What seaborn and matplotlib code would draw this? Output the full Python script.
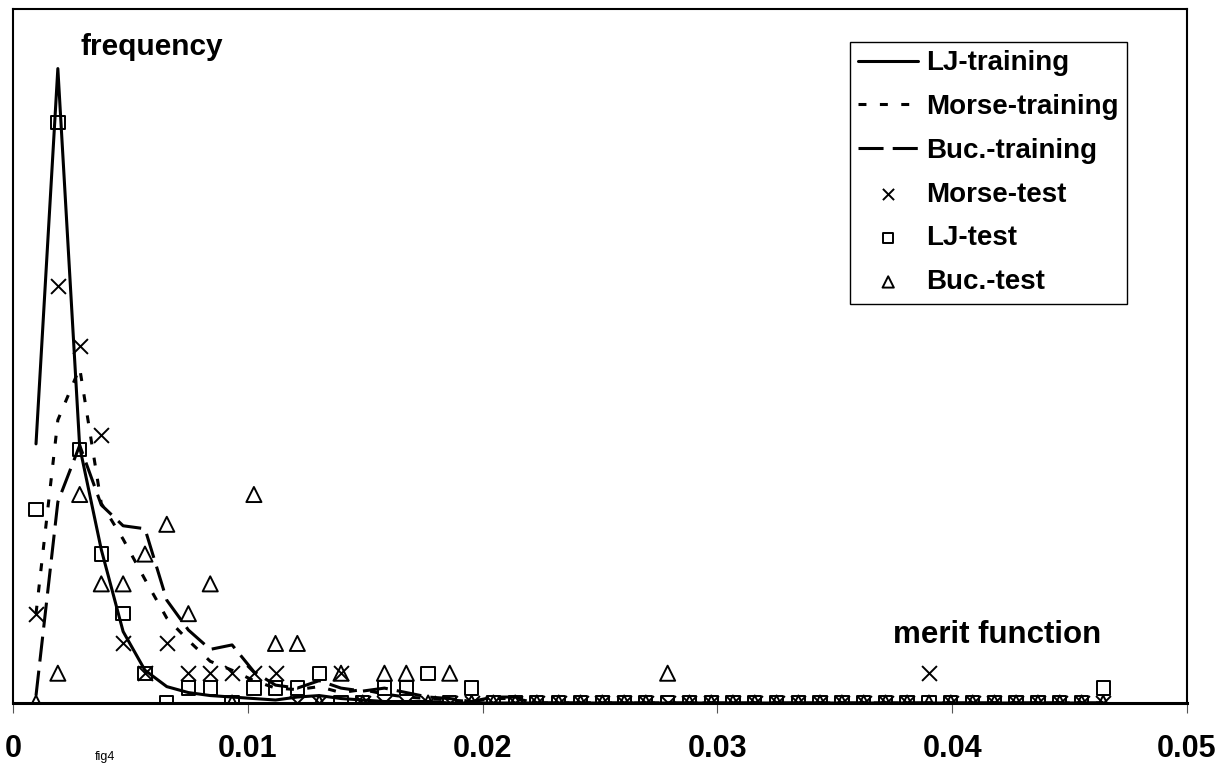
import numpy as np
import pandas as pd
import matplotlib
matplotlib.use("Agg")
import matplotlib.pyplot as plt
import seaborn as sns

# merit-function bin centres (50 bins)
merit_bins = [
    0.00098, 0.00191, 0.00284, 0.00376, 0.00469, 0.00562, 0.00655, 0.00747, 0.00840, 0.00933,
    0.01026, 0.01118, 0.01211, 0.01304, 0.01397, 0.01489, 0.01582, 0.01675, 0.01768, 0.01860,
    0.01953, 0.02046, 0.02139, 0.02231, 0.02324, 0.02417, 0.02510, 0.02603, 0.02695, 0.02788,
    0.02881, 0.02974, 0.03066, 0.03159, 0.03252, 0.03345, 0.03437, 0.03530, 0.03623, 0.03716,
    0.03808, 0.03901, 0.03994, 0.04087, 0.04180, 0.04272, 0.04365, 0.04458, 0.04551, 0.04643,
]

# training-set frequency (%)
lj_training = [
    17.4, 42.6, 17.2, 10.3, 4.8, 2.2, 1.1, 0.7, 0.5, 0.4,
    0.3, 0.2, 0.4, 0.5, 0.3, 0.2, 0.1, 0.1, 0.1, 0.0,
    0.0, 0.0, 0.0, 0.0, 0.0, 0.0, 0.0, 0.0, 0.0, 0.0,
    0.0, 0.0, 0.0, 0.0, 0.0, 0.0, 0.0, 0.0, 0.0, 0.0,
    0.0, 0.0, 0.0, 0.0, 0.0, 0.0, 0.0, 0.0, 0.0, 0.0,
]
morse_training = [
    6.0, 19.0, 22.5, 13.4, 11.0, 8.3, 5.7, 4.2, 2.8, 2.2,
    1.5, 1.0, 0.9, 1.1, 0.7, 0.9, 0.6, 0.4, 0.3, 0.2,
    0.1, 0.3, 0.3, 0.0, 0.0, 0.0, 0.0, 0.0, 0.0, 0.0,
    0.0, 0.0, 0.0, 0.0, 0.0, 0.0, 0.0, 0.0, 0.0, 0.0,
    0.0, 0.0, 0.0, 0.0, 0.0, 0.0, 0.0, 0.0, 0.0, 0.0,
]
buc_training = [
    0.5, 13.5, 17.3, 13.3, 11.9, 11.7, 6.9, 4.9, 3.6, 3.9,
    2.1, 1.2, 1.0, 1.5, 1.0, 0.8, 1.0, 0.7, 0.4, 0.3,
    0.1, 0.4, 0.4, 0.0, 0.0, 0.0, 0.0, 0.0, 0.0, 0.0,
    0.0, 0.0, 0.0, 0.0, 0.0, 0.0, 0.0, 0.0, 0.0, 0.0,
    0.0, 0.0, 0.0, 0.0, 0.0, 0.0, 0.0, 0.0, 0.0, 0.0,
]

# test-set frequency (%)
morse_test = [
    6, 28, 24, 18, 4, 2, 4, 2, 2, 2,
    2, 2, 0, 0, 2, 0, 0, 0, 0, 0,
    0, 0, 0, 0, 0, 0, 0, 0, 0, 0,
    0, 0, 0, 0, 0, 0, 0, 0, 0, 0,
    0, 2, 0, 0, 0, 0, 0, 0, 0, 0,
]
lj_test = [
    13, 39, 17, 10, 6, 2, 0, 1, 1, 0,
    1, 1, 1, 2, 0, 0, 1, 1, 2, 0,
    1, 0, 0, 0, 0, 0, 0, 0, 0, 0,
    0, 0, 0, 0, 0, 0, 0, 0, 0, 0,
    0, 0, 0, 0, 0, 0, 0, 0, 0, 1,
]
buc_test = [
    0, 2, 14, 8, 8, 10, 12, 6, 8, 0,
    14, 4, 4, 0, 2, 0, 2, 2, 0, 2,
    0, 0, 0, 0, 0, 0, 0, 0, 0, 2,
    0, 0, 0, 0, 0, 0, 0, 0, 0, 0,
    0, 0, 0, 0, 0, 0, 0, 0, 0, 0,
]

x_ticks = [0, 0.01, 0.02, 0.03, 0.04, 0.05]
x_tick_labels = ["0", "0.01", "0.02", "0.03", "0.04", "0.05"]

df = pd.DataFrame({
    "merit": merit_bins,
    "LJ-training": lj_training,
    "Morse-training": morse_training,
    "Buc.-training": buc_training,
    "Morse-test": morse_test,
    "LJ-test": lj_test,
    "Buc.-test": buc_test,
})

sns.set_theme(style="white")
plt.rcParams["font.family"] = ["Liberation Sans", "DejaVu Sans"]
plt.rcParams["font.weight"] = "bold"
plt.rcParams["text.color"] = "black"
plt.rcParams["xtick.color"] = "black"
plt.rcParams["axes.labelcolor"] = "black"

fig = plt.figure(figsize=(12.2, 7.65), dpi=100)
ax = fig.add_axes([13 / 1220, 1 - 703 / 765, 1174 / 1220, 694 / 765])

lw = 2.2
line_styles = {
    "LJ-training": "-",
    "Morse-training": (0, (2.6, 4.4)),
    "Buc.-training": (0, (8.2, 3.0)),
}
for name, ls in line_styles.items():
    sns.lineplot(data=df, x="merit", y=name, ax=ax, color="black",
                 linewidth=lw, linestyle=ls, sort=False, label=name)

marker_specs = [
    ("Morse-test", "x", 115),
    ("LJ-test", "s", 92),
    ("Buc.-test", "^", 118),
]
for name, mk, size in marker_specs:
    sns.scatterplot(data=df, x="merit", y=name, ax=ax, marker=mk, s=size,
                    color="black", linewidth=1.4, label=name, zorder=3)
    coll = ax.collections[-1]
    if mk != "x":
        coll.set_facecolor("none")
        coll.set_edgecolor("black")
    coll.set_linewidth(1.4)

ax.set_xlim(0, 0.05)
ax.set_ylim(0, 46.6)
ax.set_xticks(x_ticks)
ax.set_xticklabels(x_tick_labels, fontsize=22, fontweight="bold", color="black")
ax.set_yticks([])
ax.set_xlabel("")
ax.set_ylabel("")
ax.tick_params(axis="x", direction="out", length=7, width=0.8, color="#555555",
               pad=15, bottom=True, labelcolor="black")

for side in ["left", "top", "right"]:
    ax.spines[side].set_color("black")
    ax.spines[side].set_linewidth(1.5)
ax.spines["bottom"].set_color("black")
ax.spines["bottom"].set_linewidth(2.2)

ax.text(0.0571, 0.9337, "frequency", transform=ax.transAxes, fontsize=21.5,
        fontweight="bold", ha="left", va="baseline", color="black")
ax.text(0.7496, 0.0865, "merit function", transform=ax.transAxes, fontsize=22.5,
        fontweight="bold", ha="left", va="baseline", color="black")
fig.text(95 / 1220, 5 / 765, "fig4", fontsize=9, fontweight="normal",
         ha="left", va="baseline", color="black")

handles, labels = ax.get_legend_handles_labels()
leg = ax.legend(handles, labels, loc="upper left",
                bbox_to_anchor=((850 - 13) / 1174, 1 - (42 - 9) / 694),
                borderaxespad=0,
                prop={"size": 20, "weight": "bold"}, frameon=True,
                fancybox=False, framealpha=1, edgecolor="black",
                handlelength=2.15, handletextpad=0.3, labelspacing=0.64,
                borderpad=0.3, markerscale=0.75)
leg.get_frame().set_linewidth(1.0)
for t in leg.get_texts():
    t.set_color("black")

fig.savefig("out.png", dpi=100)
